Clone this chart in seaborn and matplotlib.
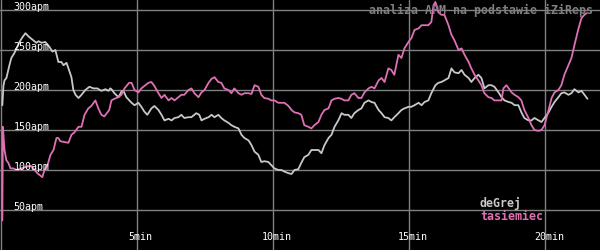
import numpy as np
import pandas as pd
import matplotlib
matplotlib.use("Agg")
import matplotlib.pyplot as plt
import matplotlib.transforms as mtransforms
import seaborn as sns

# ---- data (minutes, APM) ----
degrej_t = [0.06, 0.10, 0.14, 0.21, 0.32, 0.39, 0.50, 0.58, 0.69, 0.80, 0.91, 1.02, 1.31, 1.39, 1.50, 1.64,
            1.79, 1.90, 2.01, 2.12, 2.23, 2.31, 2.42, 2.53, 2.60, 2.67, 2.75, 2.86, 2.97, 3.11, 3.26, 3.41,
            3.55, 3.70, 3.85, 3.96, 4.03, 4.07, 4.18, 4.33, 4.44, 4.51, 4.62, 4.81, 4.92, 5.06, 5.17, 5.28,
            5.39, 5.54, 5.65, 5.80, 5.91, 6.02, 6.17, 6.28, 6.39, 6.53, 6.64, 6.75, 6.90, 7.01, 7.19, 7.30,
            7.38, 7.49, 7.64, 7.75, 7.86, 8.00, 8.11, 8.22, 8.37, 8.48, 8.59, 8.74, 8.85, 8.96, 9.11, 9.22,
            9.33, 9.47, 9.58, 9.69, 9.84, 9.95, 10.06, 10.21, 10.32, 10.43, 10.58, 10.69, 10.80, 10.94, 11.05,
            11.16, 11.31, 11.42, 11.53, 11.68, 11.79, 11.90, 12.05, 12.16, 12.27, 12.41, 12.53, 12.63, 12.78,
            12.89, 13.00, 13.15, 13.26, 13.37, 13.52, 13.63, 13.74, 13.89, 14.00, 14.11, 14.25, 14.36, 14.47,
            14.62, 14.73, 14.84, 14.99, 15.10, 15.21, 15.36, 15.47, 15.58, 15.72, 15.83, 15.98, 16.09, 16.20,
            16.31, 16.46, 16.57, 16.68, 16.83, 16.94, 17.05, 17.20, 17.30, 17.42, 17.56, 17.67, 17.75, 17.78,
            17.93, 18.04, 18.15, 18.30, 18.41, 18.52, 18.67, 18.78, 18.89, 19.03, 19.14, 19.25, 19.40, 19.51,
            19.62, 19.77, 19.88, 19.99, 20.14, 20.25, 20.36, 20.50, 20.61, 20.72, 20.87, 20.98, 21.09, 21.24,
            21.35, 21.46, 21.57]
degrej_apm = [181, 205, 212, 215, 231, 240, 246, 252, 260, 266, 271, 267, 259, 261, 259, 260,
              254, 248, 250, 235, 235, 231, 234, 223, 216, 200, 194, 190, 194, 200, 204, 202,
              202, 199, 201, 199, 202, 201, 196, 191, 198, 199, 191, 184, 181, 184, 179, 173,
              169, 177, 180, 175, 169, 162, 164, 162, 165, 166, 169, 165, 166, 166, 171, 169,
              162, 164, 166, 169, 166, 169, 165, 162, 159, 156, 154, 152, 144, 140, 137, 131,
              123, 119, 110, 111, 110, 106, 102, 100, 100, 98, 96, 95, 100, 101, 109,
              116, 119, 125, 125, 125, 121, 131, 140, 144, 154, 162, 171, 169, 169,
              165, 171, 175, 177, 184, 187, 185, 184, 175, 171, 166, 165, 162, 166,
              171, 175, 177, 179, 179, 181, 184, 181, 185, 187, 196, 206, 209, 210,
              212, 215, 227, 222, 221, 225, 219, 215, 210, 215, 219, 215, 206, 202,
              206, 206, 204, 197, 191, 187, 185, 184, 181, 181, 172, 165, 162, 162,
              165, 162, 160, 165, 172, 179, 185, 191, 196, 197, 194, 196, 201, 197,
              199, 194, 189]

tasiemiec_t = [0.06, 0.08, 0.14, 0.21, 0.28, 0.36, 0.47, 0.58, 0.76, 0.94, 1.13, 1.24, 1.35, 1.42, 1.53, 1.61,
               1.72, 1.83, 1.94, 2.05, 2.12, 2.19, 2.34, 2.49, 2.60, 2.71, 2.86, 2.97, 3.08, 3.22, 3.33, 3.48,
               3.59, 3.70, 3.81, 3.92, 3.99, 4.07, 4.18, 4.33, 4.44, 4.55, 4.72, 4.81, 4.92, 5.06, 5.17, 5.28,
               5.43, 5.54, 5.65, 5.80, 5.91, 6.02, 6.17, 6.28, 6.39, 6.53, 6.64, 6.75, 6.90, 7.01, 7.12, 7.27,
               7.38, 7.49, 7.64, 7.75, 7.86, 8.00, 8.11, 8.22, 8.37, 8.48, 8.59, 8.74, 8.85, 8.96, 9.11, 9.22,
               9.33, 9.47, 9.58, 9.69, 9.84, 9.95, 10.06, 10.21, 10.32, 10.43, 10.58, 10.69, 10.80, 10.94, 11.05,
               11.16, 11.31, 11.42, 11.53, 11.68, 11.79, 11.90, 12.05, 12.16, 12.27, 12.41, 12.53, 12.63, 12.78,
               12.89, 13.00, 13.15, 13.26, 13.37, 13.52, 13.63, 13.74, 13.89, 14.00, 14.11, 14.25, 14.36, 14.47,
               14.62, 14.73, 14.84, 14.99, 15.10, 15.21, 15.36, 15.47, 15.58, 15.72, 15.83, 15.91, 15.98, 16.09,
               16.20, 16.31, 16.46, 16.57, 16.68, 16.83, 16.94, 17.05, 17.20, 17.30, 17.42, 17.56, 17.67, 17.78,
               17.93, 18.04, 18.15, 18.30, 18.41, 18.48, 18.59, 18.78, 18.89, 19.03, 19.14, 19.25, 19.40, 19.51,
               19.62, 19.77, 19.88, 19.99, 20.14, 20.25, 20.36, 20.50, 20.61, 20.72, 20.87, 20.98, 21.09, 21.24,
               21.35, 21.46, 21.53]
tasiemiec_apm = [37, 154, 125, 112, 109, 102, 102, 100, 102, 104, 105, 100, 96, 94, 91, 100,
                 106, 119, 125, 140, 140, 136, 135, 134, 144, 147, 154, 154, 169, 177, 180, 187,
                 177, 169, 167, 172, 175, 187, 189, 191, 194, 202, 209, 209, 200, 197, 202, 205,
                 209, 210, 205, 196, 190, 194, 187, 190, 187, 191, 194, 194, 200, 202, 196, 191,
                 197, 200, 209, 214, 216, 210, 209, 202, 200, 196, 202, 196, 194, 196, 196, 195,
                 206, 204, 194, 190, 189, 187, 187, 184, 184, 184, 180, 175, 172, 171, 169,
                 156, 154, 152, 156, 160, 169, 175, 177, 187, 189, 190, 189, 187, 187,
                 194, 196, 190, 190, 197, 202, 204, 202, 212, 215, 210, 227, 225, 219,
                 244, 240, 252, 260, 265, 275, 277, 281, 281, 281, 285, 306, 310, 297,
                 294, 294, 281, 269, 262, 250, 252, 244, 235, 227, 219, 212, 206, 196,
                 191, 190, 187, 187, 187, 202, 206, 197, 194, 191, 187, 175, 165, 156,
                 150, 149, 150, 156, 175, 190, 197, 200, 206, 219, 231, 240, 256, 277,
                 290, 294, 296]

players = ["deGrej", "tasiemiec"]
player_colors = ["#c8c8c8", "#e070b4"]
x_ticks = [0, 5, 10, 15, 20]
x_tick_labels = ["", "5min", "10min", "15min", "20min"]
y_ticks = [50, 100, 150, 200, 250, 300]
y_tick_labels = ["50apm", "100apm", "150apm", "200apm", "250apm", "300apm"]
title_text = "analiza APM na podstawie iZiReps"

df = pd.concat([
    pd.DataFrame({"t": degrej_t, "apm": degrej_apm, "player": players[0]}),
    pd.DataFrame({"t": tasiemiec_t, "apm": tasiemiec_apm, "player": players[1]}),
], ignore_index=True)

sns.set_theme(style="dark")
plt.rcParams["font.family"] = ["DejaVu Sans Mono", "DejaVu Sans"]

fig = plt.figure(figsize=(6, 2.5), dpi=100)
fig.patch.set_facecolor("black")
ax = fig.add_axes([0, 0, 1, 1])
ax.set_facecolor("black")

ax.set_xlim(-0.026, 22.03)
ax.set_ylim(0, 312.5)

# grid
for v in y_ticks:
    ax.axhline(v, color="#808080", lw=1.0, zorder=1)
for v in x_ticks:
    ax.axvline(v, color="#808080", lw=1.0, zorder=1)

sns.lineplot(data=df, x="t", y="apm", hue="player", palette=dict(zip(players, player_colors)),
             estimator=None, sort=False, lw=1.3, legend=False, ax=ax, zorder=3)

ax.set_xticks([])
ax.set_yticks([])
for s in ax.spines.values():
    s.set_visible(False)
ax.set_xlabel("")
ax.set_ylabel("")

ytr = mtransforms.blended_transform_factory(ax.transAxes, ax.transData)
for v, lab in zip(y_ticks, y_tick_labels):
    ax.text(13.5 / 600, v, lab, transform=ytr, color="white", fontsize=7.2,
            ha="left", va="baseline", zorder=4)

xtr = mtransforms.blended_transform_factory(ax.transData, ax.transAxes)
for v, lab in zip(x_ticks, x_tick_labels):
    if lab:
        ax.text(v + 0.15, 1 - 237 / 250, lab, transform=xtr, color="white", fontsize=7.2,
                ha="center", va="center", zorder=4)

ax.text(593 / 600, 1 - 10 / 250, title_text, transform=ax.transAxes, color="#808080",
        fontsize=8.4, fontweight="bold", ha="right", va="center", zorder=4)

for i, (p, c) in enumerate(zip(players, player_colors)):
    ax.text(480 / 600, 1 - (203 + 14 * i) / 250, p, transform=ax.transAxes, color=c,
            fontsize=8.4, fontweight="bold", ha="left", va="center", zorder=4)

fig.savefig("out.png", dpi=100, facecolor="black")
